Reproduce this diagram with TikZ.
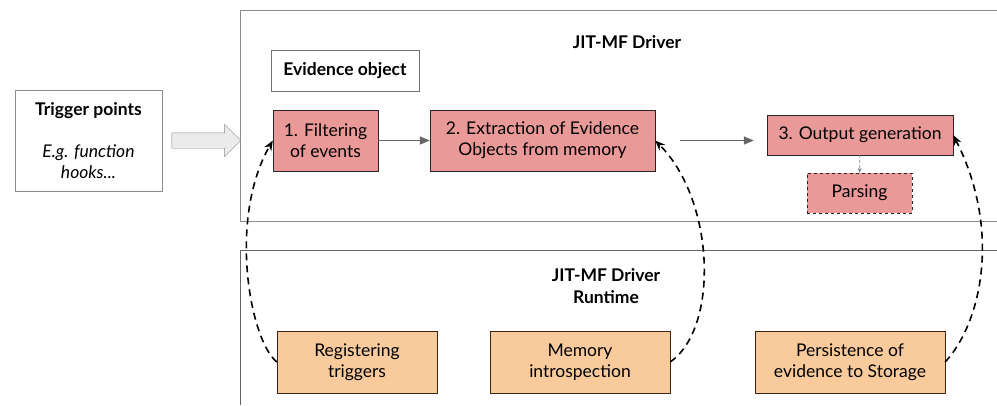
\documentclass[tikz,border=0pt]{standalone}
\usepackage{fontspec}
\setmainfont{Lato}
\usepackage{tikz}
\usetikzlibrary{arrows.meta}
\usetikzlibrary{shapes.arrows}
\definecolor{stepred}{HTML}{EA9999}
\definecolor{steporange}{HTML}{F9CB9C}
\definecolor{frameline}{HTML}{8C8C8C}

\begin{document}
\begin{tikzpicture}[x=1pt,y=1pt,>={Stealth[length=10pt,width=8pt]},
  every node/.style={font=\fontsize{17.5}{21}\selectfont},
  plain/.style={draw=frameline, fill=white, inner sep=0pt, align=center},
  redstep/.style={draw=black!85, fill=stepred, inner sep=0pt, align=center},
  orangestep/.style={draw=black!70!brown, fill=steporange, inner sep=0pt, align=center},
  title/.style={font=\fontsize{17.5}{22}\selectfont\bfseries, align=center},
  flow/.style={-{Triangle[length=10pt,width=8pt]}, draw=black!60, line width=1.5pt},
  callback/.style={->, line width=1.6pt, dash pattern=on 7pt off 5pt}]
\useasboundingbox (0,0) rectangle (997,-405);
% containers, open on the right
\draw[frameline, line width=0.8pt] (997,-10) -- (240,-10) -- (240,-221) -- (997,-221);
\draw[black!60, line width=0.8pt] (997,-250) -- (240,-250) -- (240,-405);
\node[title] (drv) at (627,-42) {JIT-MF Driver};
\node[title] (rt) at (606,-286) {JIT-MF Driver\\Runtime};
% trigger points and entry arrow
\node[plain, minimum width=147, minimum height=101] (trig) at (88.5,-140.5)
  {\textbf{Trigger points}\\[21pt]\textit{E.g. function}\\\textit{hooks...}};
\node[single arrow, draw=frameline, fill=black!8, minimum height=69,
  inner xsep=0pt, inner ysep=7.5pt, single arrow head extend=8.5pt] (entry) at (202.5,-140.5) {};
% driver steps
\node[plain, draw=black!55, minimum width=148, minimum height=41] (evid) at (345,-70.5) {\textbf{Evidence object}};
\node[redstep, minimum width=105, minimum height=61] (filt) at (325.5,-140.5) {1. Filtering\\of events};
\node[redstep, minimum width=225, minimum height=61] (extr) at (542.5,-140.5) {2. Extraction of Evidence\\Objects from memory};
\node[redstep, minimum width=186, minimum height=40] (outp) at (860,-135) {3. Output generation};
\node[redstep, dashed, minimum width=105, minimum height=40] (pars) at (859.5,-193) {Parsing};
% runtime services
\node[orangestep, minimum width=160, minimum height=62] (reg) at (357,-362) {Registering\\triggers};
\node[orangestep, minimum width=180, minimum height=62] (mem) at (580,-362) {Memory\\introspection};
\node[orangestep, minimum width=190, minimum height=62] (pers) at (850,-362) {Persistence of\\evidence to Storage};
% connectors
\draw[flow] (filt) -- (extr);
\draw[flow, shorten <=25pt, shorten >=13pt] (extr.east) -- (extr.east -| outp.west);
\draw[-{Stealth[length=5pt,width=4pt]}, draw=black!50, densely dashed, line width=0.8pt] (outp) -- (pars);
\draw[callback] (reg.west) .. controls +(-27,22) and +(-45,-78) .. (filt.west);
\draw[callback] (mem.east) .. controls +(49,34) and +(60,-60) .. (extr.east);
\draw[callback] (pers.east) .. controls +(37,40) and +(48,-94) .. (outp.east);
\end{tikzpicture}
\end{document}
